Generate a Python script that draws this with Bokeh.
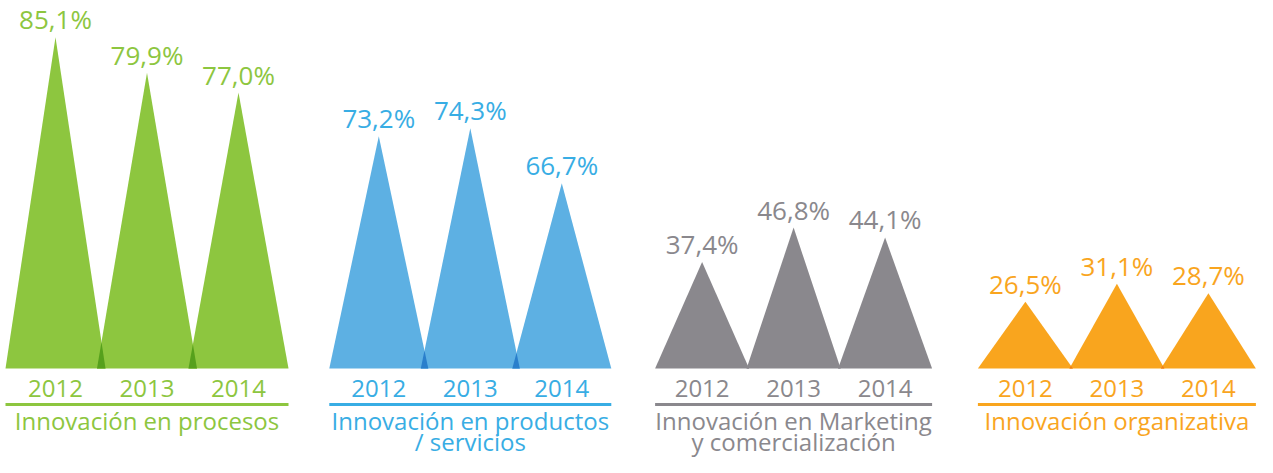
from bokeh.plotting import figure
from bokeh.models import Range1d
from bokeh.core.properties import value
from bokeh.embed import file_html
from bokeh.resources import INLINE

# ---- data ----
years = ["2012", "2013", "2014"]
titles = [
    ["Innovación en procesos"],
    ["Innovación en productos", "/ servicios"],
    ["Innovación en Marketing", "y comercialización"],
    ["Innovación organizativa"],
]
procesos = [85.1, 79.9, 77.0]
productos = [73.2, 74.3, 66.7]
marketing = [37.4, 46.8, 44.1]
organizativa = [26.5, 31.1, 28.7]
series = [procesos, productos, marketing, organizativa]

# ---- styles ----
fills = ["#8DC63F", "#5DB0E3", "#8A888D", "#F9A51E"]
overlaps = ["#56A01C", "#2A7FCC", "#8A888D", "#F07D1B"]
text_colors = ["#8DC63F", "#38ADE4", "#8A888D", "#F9A51E"]
# per-panel scale: value at baseline, px per percentage point (infographic scaling)
scale_base = [36.6, 41.2, 8.4, 9.5]
scale_px = [6.83, 7.26, 3.67, 3.92]
half_w = [50, 49.5, 47, 47.5]
FONT = value("Open Sans")

W, H = 1257, 457
TOP_PX = 368          # px above baseline to top of plot
BOT_PX = H - TOP_PX   # px below baseline to bottom of plot
TXT_SHIFT = 10        # compensation for the rendered text baseline

p = figure(width=W, height=H, x_range=Range1d(3, 3 + W),
           y_range=Range1d(-BOT_PX, TOP_PX), output_backend="svg",
           toolbar_location=None, min_border=0,
           x_axis_location=None, y_axis_location=None)
p.grid.visible = False
p.outline_line_color = None
p.background_fill_color = "white"
p.border_fill_color = "white"

x0, gap, step = 58, 323.3, 91.5

for g, vals in enumerate(series):
    name = f"panel{g}"
    base, a, hw = scale_base[g], scale_px[g], half_w[g]
    p.extra_y_ranges[name] = Range1d(base - BOT_PX / a, base + TOP_PX / a)
    centers = [x0 + gap * g + step * i for i in range(len(vals))]

    xs = [[c - hw, c, c + hw] for c in centers]
    ys = [[base, v, base] for v in vals]
    p.patches(xs, ys, fill_color=fills[g], line_color=None, y_range_name=name)

    # overlap regions between neighbouring triangles
    oxs, oys = [], []
    for i in range(len(vals) - 1):
        L = centers[i + 1] - hw
        R = centers[i] + hw
        if R <= L:
            continue
        hi, hj = vals[i] - base, vals[i + 1] - base
        xm = (hi * R + hj * L) / (hi + hj)
        ym = base + hi * (R - xm) / hw
        oxs.append([L, xm, R])
        oys.append([base, ym, base])
    if oxs:
        p.patches(oxs, oys, fill_color=overlaps[g], line_color=None, y_range_name=name)

    labels = [f"{v:.1f}".replace(".", ",") + "%" for v in vals]
    p.text(x=centers, y=vals, text=labels, y_range_name=name, y_offset=-8 - TXT_SHIFT,
           text_align="center", text_baseline="alphabetic", text_font=FONT,
           text_font_size="26px", text_color=text_colors[g])

    p.text(x=centers, y=[-30 + TXT_SHIFT] * 3, text=years, text_align="center",
           text_baseline="alphabetic", text_font=FONT, text_font_size="24px",
           text_color=text_colors[g])

    p.segment(x0=[centers[0] - hw], y0=[-36], x1=[centers[-1] + hw], y1=[-36],
              line_color=text_colors[g], line_width=3)

    mid = (centers[0] + centers[-1]) / 2
    for k, line in enumerate(titles[g]):
        p.text(x=[mid], y=[-62 - 21 * k + TXT_SHIFT], text=[line], text_align="center",
               text_baseline="alphabetic", text_font=FONT, text_font_size="24px",
               text_color=text_colors[g])

open("out.html", "w").write(file_html(p, INLINE))
